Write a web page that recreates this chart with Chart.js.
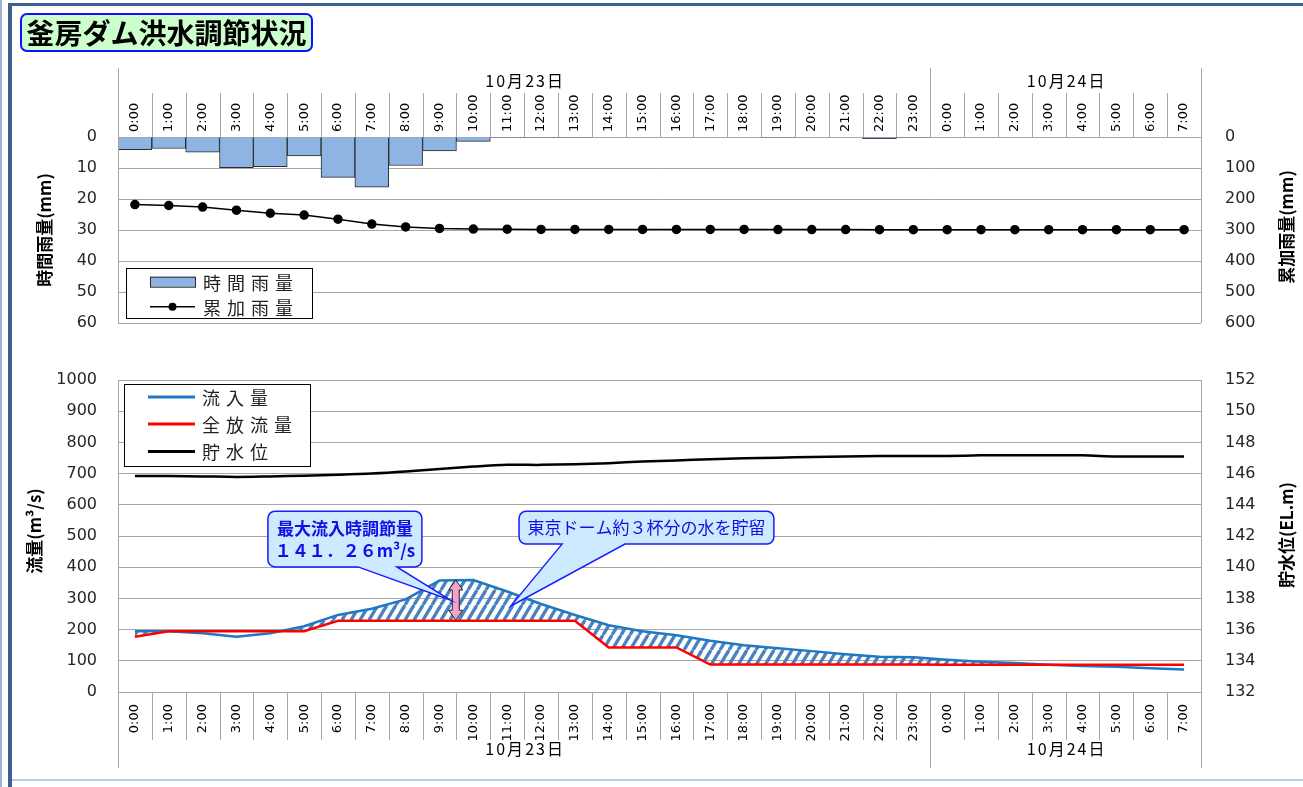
<!DOCTYPE html>
<html><head><meta charset="utf-8">
<script src="https://cdn.jsdelivr.net/npm/chart.js@4.4.1/dist/chart.umd.min.js"></script>
<style>
html,body{margin:0;padding:0;background:#fff;width:1303px;height:787px;overflow:hidden;position:relative;font-family:"Noto Sans CJK JP","Noto Sans",sans-serif;}
#edge{position:absolute;left:0;top:0;width:2px;height:787px;background:#9db3cf;}
#frameTop{position:absolute;left:8px;top:3px;width:1295px;height:3px;background:#3c6191;}
#frameLeft{position:absolute;left:8px;top:3px;width:4px;height:784px;background:#3c6191;}
#frameBottom{position:absolute;left:12px;top:779px;width:1291px;height:2px;background:#b9cde3;}
#title{position:absolute;left:20px;top:13px;width:289px;height:35px;border:2px solid #1010ff;border-radius:7px;background:#ccffcc;font-weight:bold;font-size:28px;line-height:35px;text-align:center;color:#000;z-index:2;}
canvas{position:absolute;left:0;}
#c1{top:0}
#c2{top:335px}
</style></head>
<body>
<div id="edge"></div><div id="frameTop"></div><div id="frameLeft"></div><div id="frameBottom"></div>
<div id="title">釜房ダム洪水調節状況</div>
<canvas id="c1" width="1303" height="368"></canvas>
<canvas id="c2" width="1303" height="452"></canvas>
<script>
// ---- data ----
const hours = ['0:00','1:00','2:00','3:00','4:00','5:00','6:00','7:00','8:00','9:00','10:00','11:00','12:00','13:00','14:00','15:00','16:00','17:00','18:00','19:00','20:00','21:00','22:00','23:00','0:00','1:00','2:00','3:00','4:00','5:00','6:00','7:00'];
const dateGroups = ['10月23日','10月24日'];
const groupSizes = [24, 8];
const hourlyRain = [4.1,3.7,4.9,9.9,9.6,6.1,13.0,16.2,9.2,4.5,1.4,0.2,0.2,0.2,0,0,0,0,0,0.2,0,0,0.5,0.2,0,0,0,0,0,0,0,0];
const cumulativeRain = [218,221,226,236,246,252,265,281,290,295,297,297.5,298,298,298,298,298,298,298,298.5,298.5,298.5,299,299,299,299,299,299,299,299,299,299];
const inflow = [195,195,188,177,188,211,247,267,297,357,359,322,282,247,214,195,182,164,150,140,131,121,113,111,103,97,93,87,83,81,76,72];
const outflow = [177,195,195,195,195,195,228,228,228,228,228,228,228,228,143,143,143,88,88,88,88,88,88,88,87,87,87,87,87,87,87,87];
const waterLevel = [145.85,145.84,145.82,145.79,145.82,145.86,145.92,146.0,146.13,146.3,146.45,146.56,146.56,146.6,146.67,146.77,146.84,146.92,146.98,147.02,147.06,147.09,147.13,147.13,147.13,147.17,147.18,147.18,147.17,147.1,147.09,147.09];
const rainTicks = {min:0, max:60, step:10};
const cumTicks = {min:0, max:600, step:100};
const flowTicks = {min:0, max:1000, step:100};
const levelTicks = {min:132, max:152, step:2};

const FONT_JP = '"Noto Sans CJK JP","Noto Sans",sans-serif';
const FONT_NUM = '"DejaVu Sans",Verdana,sans-serif';
const GRID = '#a6a6a6';
const plain = v => String(v);

function drawSpaced(ctx, text, x, y, spacing){
  let cx = x;
  for (const ch of text){ ctx.fillText(ch, cx, y); cx += ctx.measureText(ch).width + spacing; }
}
function spacedWidth(ctx, text, spacing){
  let w = 0; for (const ch of text) w += ctx.measureText(ch).width + spacing; return w - spacing;
}
function vText(ctx, text, x, y, font){
  ctx.save(); ctx.translate(x, y); ctx.rotate(-Math.PI/2);
  ctx.font = font; ctx.textAlign = 'center'; ctx.textBaseline = 'middle'; ctx.fillStyle = '#000';
  ctx.fillText(text, 0, 0); ctx.restore();
}
function categoryDecor(side, labelBand, dateBand, dateTextOffset, drawLabels){
  return { id:'catDecor'+side, afterDraw(chart){
    const ctx = chart.ctx, ca = chart.chartArea, xs = chart.scales.x;
    const n = hours.length;
    const half = (xs.getPixelForValue(1) - xs.getPixelForValue(0)) / 2;
    const edge = i => i < n ? xs.getPixelForValue(i) - half : xs.getPixelForValue(n-1) + half;
    let lbTop, lbBot, dbTop, dbBot, bTop, bBot, ty;
    if (side === 'top'){ lbBot = ca.top; lbTop = ca.top - labelBand; dbBot = lbTop; dbTop = lbTop - dateBand; bTop = dbTop; bBot = ca.bottom; ty = dbTop + dateTextOffset; }
    else { lbTop = ca.bottom; lbBot = ca.bottom + labelBand; dbTop = lbBot; dbBot = lbBot + dateBand; bTop = ca.top; bBot = dbBot; ty = dbTop + dateTextOffset; }
    ctx.save(); ctx.strokeStyle = GRID; ctx.lineWidth = 1;
    const line = (x1,y1,x2,y2) => { ctx.beginPath(); ctx.moveTo(Math.round(x1)+0.5, y1); ctx.lineTo(Math.round(x2)+0.5, y2); ctx.stroke(); };
    for (let i = 1; i < n; i++) line(edge(i), lbTop, edge(i), lbBot);
    if (drawLabels){
      ctx.fillStyle = '#000'; ctx.font = '13px ' + FONT_NUM; ctx.textAlign = 'left'; ctx.textBaseline = 'middle';
      hours.forEach((h, i) => {
        ctx.save(); ctx.translate(xs.getPixelForValue(i), lbBot - 5); ctx.rotate(-Math.PI/2);
        ctx.fillText(h, 0, 0); ctx.restore();
      });
    }
    ctx.fillStyle = '#000'; ctx.font = '16px ' + FONT_JP; ctx.textAlign = 'left'; ctx.textBaseline = 'middle';
    let start = 0;
    groupSizes.forEach((sz, g) => {
      const x1 = edge(start), x2 = edge(start + sz);
      if (start > 0) line(x1, Math.min(dbTop, lbTop), x1, Math.max(dbBot, lbBot));
      const tw = spacedWidth(ctx, dateGroups[g], 2);
      drawSpaced(ctx, dateGroups[g], (x1 + x2) / 2 - tw / 2, ty, 2);
      start += sz;
    });
    line(edge(0), bTop, edge(0), bBot); line(edge(n), bTop, edge(n), bBot);
    ctx.restore();
  }};
}
function drawLegend(ctx, x, y, w, h, items, rowYs, lineX1, lineX2, textX){
  ctx.save();
  ctx.fillStyle = '#fff'; ctx.fillRect(x, y, w, h);
  ctx.strokeStyle = '#000'; ctx.lineWidth = 1; ctx.strokeRect(x + 0.5, y + 0.5, w, h);
  ctx.font = '18px ' + FONT_JP; ctx.textBaseline = 'middle'; ctx.textAlign = 'left';
  items.forEach((it, i) => {
    const cy = y + rowYs[i];
    if (it.kind === 'bar'){
      ctx.fillStyle = it.fill; ctx.fillRect(x + lineX1, cy - 5, lineX2 - lineX1, 10);
      ctx.strokeStyle = it.stroke; ctx.lineWidth = 1; ctx.strokeRect(x + lineX1 + 0.5, cy - 4.5, lineX2 - lineX1, 10);
    } else {
      ctx.strokeStyle = it.color; ctx.lineWidth = it.lw;
      ctx.beginPath(); ctx.moveTo(x + lineX1, cy); ctx.lineTo(x + lineX2, cy); ctx.stroke();
      if (it.point){ ctx.fillStyle = it.color; ctx.beginPath(); ctx.arc(x + (lineX1 + lineX2) / 2, cy, 4, 0, Math.PI * 2); ctx.fill(); }
    }
    ctx.fillStyle = '#222';
    drawSpaced(ctx, it.text, x + textX, cy + 1, 6);
  });
  ctx.restore();
}

// ---- top chart: rainfall ----
new Chart(document.getElementById('c1'), {
  type: 'bar',
  data: { labels: hours, datasets: [
    { type:'bar', label:'時間雨量', data: hourlyRain, yAxisID:'y', backgroundColor:'#8db4e2', borderColor:'#2b2b2b', borderWidth:1, barPercentage:1, categoryPercentage:1, order:2 },
    { type:'line', label:'累加雨量', data: cumulativeRain, yAxisID:'y1', borderColor:'#000', backgroundColor:'#000', borderWidth:1.5, pointRadius:4, pointHoverRadius:4, pointBackgroundColor:'#000', tension:0, order:1 }
  ]},
  options: {
    responsive:false, animation:false, devicePixelRatio:1,
    layout:{ padding:{ left:0, right:0, top:68, bottom:45 } },
    plugins:{ legend:{ display:false }, tooltip:{ enabled:false } },
    scales:{
      x:{ position:'top', offset:true, grid:{ display:false }, border:{ display:false },
          ticks:{ display:false, autoSkip:false },
          afterFit(s){ s.height = 69; } },
      y:{ position:'left', reverse:true, min:rainTicks.min, max:rainTicks.max,
          ticks:{ stepSize:rainTicks.step, padding:21, color:'#262626', font:{ family:FONT_NUM, size:16 }, callback:plain },
          grid:{ color:GRID, drawTicks:false }, border:{ display:false },
          afterFit(s){ s.width = 118; } },
      y1:{ position:'right', reverse:true, min:cumTicks.min, max:cumTicks.max,
          ticks:{ stepSize:cumTicks.step, padding:24, color:'#262626', font:{ family:FONT_NUM, size:16 }, callback:plain },
          grid:{ display:false, drawTicks:false }, border:{ display:false },
          afterFit(s){ s.width = 102; } }
    }
  },
  plugins:[ categoryDecor('top', 44, 25, 12.5, true), { id:'topExtras', afterDraw(chart){
    const ctx = chart.ctx, ca = chart.chartArea;
    const cy = (ca.top + ca.bottom) / 2;
    vText(ctx, '時間雨量(mm)', ca.left - 73, cy, 'bold 17px ' + FONT_JP);
    vText(ctx, '累加雨量(mm)', ca.right + 86, cy - 3, 'bold 17px ' + FONT_JP);
    drawLegend(ctx, ca.left + 8, ca.top + 131, 186, 50, [
      { kind:'bar', fill:'#8db4e2', stroke:'#2b2b2b', text:'時間雨量' },
      { kind:'line', color:'#000', lw:1.5, point:true, text:'累加雨量' }
    ], [13.7, 38.7], 24, 69, 77);
  }}]
});

// ---- bottom chart: flow / water level ----
const c2 = document.getElementById('c2');
function makeHatch(ctx){
  const w = 9, h = 15;
  const c = document.createElement('canvas'); c.width = w; c.height = h;
  const g = c.getContext('2d');
  g.strokeStyle = '#4a82c0'; g.lineWidth = 3.4;
  for (const dx of [-w, 0, w]){ g.beginPath(); g.moveTo(dx, h); g.lineTo(dx + w, 0); g.stroke(); }
  return ctx.createPattern(c, 'repeat');
}
const hatch = makeHatch(c2.getContext('2d'));

function roundedCallout(ctx, l, t, r, b, b1, b2, tx, ty, rad){
  ctx.beginPath();
  ctx.moveTo(l + rad, t);
  ctx.lineTo(r - rad, t); ctx.arcTo(r, t, r, t + rad, rad);
  ctx.lineTo(r, b - rad); ctx.arcTo(r, b, r - rad, b, rad);
  ctx.lineTo(b2, b); ctx.lineTo(tx, ty); ctx.lineTo(b1, b);
  ctx.lineTo(l + rad, b); ctx.arcTo(l, b, l, b - rad, rad);
  ctx.lineTo(l, t + rad); ctx.arcTo(l, t, l + rad, t, rad);
  ctx.closePath();
  ctx.fillStyle = '#cdeaff'; ctx.fill();
  ctx.strokeStyle = '#1a1aff'; ctx.lineWidth = 1.5; ctx.stroke();
}
const callouts = [
  { box:[3.93, 8.48, 579, 401], base:[6.59, 7.74], tip:[9.31, 295], lines:['最大流入時調節量','１４１．２６m³/s'], bold:true },
  { box:[11.35, 18.88, 579, 474], base:[12.62, 14.48], tip:[11.11, 276], lines:['東京ドーム約３杯分の水を貯留'], bold:false }
];
const arrowSpec = { x:9.48, from:230, to:359 };

new Chart(c2, {
  type: 'line',
  data: { labels: hours, datasets: [
    { label:'流入量', data: inflow, yAxisID:'y', borderColor:'#1f78c3', backgroundColor:'#1f78c3', borderWidth:2.5, pointRadius:0, tension:0, order:1,
      fill:{ target:1, above:hatch, below:'rgba(0,0,0,0)' } },
    { label:'全放流量', data: outflow, yAxisID:'y', borderColor:'#ff0000', backgroundColor:'#ff0000', borderWidth:2.5, pointRadius:0, tension:0, order:0, fill:false },
    { label:'貯水位', data: waterLevel, yAxisID:'y1', borderColor:'#000', backgroundColor:'#000', borderWidth:2.5, pointRadius:0, tension:0.3, order:0, fill:false }
  ]},
  options: {
    responsive:false, animation:false, devicePixelRatio:1,
    layout:{ padding:{ left:0, right:0, top:45, bottom:19 } },
    plugins:{ legend:{ display:false }, tooltip:{ enabled:false } },
    scales:{
      x:{ position:'bottom', offset:true, grid:{ display:false, offset:true }, border:{ display:false },
          ticks:{ autoSkip:false, minRotation:90, maxRotation:90, padding:4, color:'#000', font:{ family:FONT_NUM, size:13 } },
          afterFit(s){ s.height = 76; } },
      y:{ position:'left', min:flowTicks.min, max:flowTicks.max,
          ticks:{ stepSize:flowTicks.step, padding:21, color:'#262626', font:{ family:FONT_NUM, size:16 }, callback:plain },
          grid:{ color:GRID, drawTicks:false }, border:{ display:false },
          afterFit(s){ s.width = 118; } },
      y1:{ position:'right', min:levelTicks.min, max:levelTicks.max,
          ticks:{ stepSize:levelTicks.step, padding:24, color:'#262626', font:{ family:FONT_NUM, size:16 }, callback:plain },
          grid:{ display:false, drawTicks:false }, border:{ display:false },
          afterFit(s){ s.width = 102; } }
    }
  },
  plugins:[ categoryDecor('bottom', 48, 28, 9, false), { id:'bottomExtras', afterDraw(chart){
    const ctx = chart.ctx, ca = chart.chartArea, xs = chart.scales.x, ys = chart.scales.y;
    const cy = (ca.top + ca.bottom) / 2;
    vText(ctx, '流量(m³/s)', ca.left - 83, cy - 5, 'bold 17px ' + FONT_JP);
    vText(ctx, '貯水位(EL.m)', ca.right + 86, cy - 1, 'bold 17px ' + FONT_JP);
    drawLegend(ctx, ca.left + 6, ca.top + 4, 186, 82, [
      { kind:'line', color:'#1f78c3', lw:3, text:'流入量' },
      { kind:'line', color:'#ff0000', lw:3, text:'全放流量' },
      { kind:'line', color:'#000', lw:3, text:'貯水位' }
    ], [13, 40, 67.5], 24, 71, 78);
    // pink double arrow
    const ax = xs.getPixelForValue(arrowSpec.x), ay1 = ys.getPixelForValue(arrowSpec.to), ay2 = ys.getPixelForValue(arrowSpec.from);
    const hw = 7, sw = 3.5, hl = 10;
    ctx.save();
    ctx.beginPath();
    ctx.moveTo(ax, ay1); ctx.lineTo(ax + hw, ay1 + hl); ctx.lineTo(ax + sw, ay1 + hl);
    ctx.lineTo(ax + sw, ay2 - hl); ctx.lineTo(ax + hw, ay2 - hl); ctx.lineTo(ax, ay2);
    ctx.lineTo(ax - hw, ay2 - hl); ctx.lineTo(ax - sw, ay2 - hl); ctx.lineTo(ax - sw, ay1 + hl);
    ctx.lineTo(ax - hw, ay1 + hl); ctx.closePath();
    ctx.fillStyle = '#f2a3cb'; ctx.fill(); ctx.strokeStyle = '#222'; ctx.lineWidth = 1; ctx.stroke();
    ctx.restore();
    // callouts
    callouts.forEach(c => {
      const l = xs.getPixelForValue(c.box[0]), r = xs.getPixelForValue(c.box[1]);
      const t = ys.getPixelForValue(c.box[2]), b = ys.getPixelForValue(c.box[3]);
      const b1 = xs.getPixelForValue(c.base[0]), b2 = xs.getPixelForValue(c.base[1]);
      const tx = xs.getPixelForValue(c.tip[0]), ty = ys.getPixelForValue(c.tip[1]);
      ctx.save();
      roundedCallout(ctx, l, t, r, b, b1, b2, tx, ty, 7);
      ctx.fillStyle = '#1010e6'; ctx.textAlign = 'center'; ctx.textBaseline = 'middle';
      ctx.font = (c.bold ? 'bold ' : '') + '17px ' + FONT_JP;
      const n = c.lines.length, lh = 22;
      c.lines.forEach((s, i) => ctx.fillText(s, (l + r) / 2, (t + b) / 2 + (i - (n - 1) / 2) * lh));
      ctx.restore();
    });
  }}]
});
</script>
</body></html>
